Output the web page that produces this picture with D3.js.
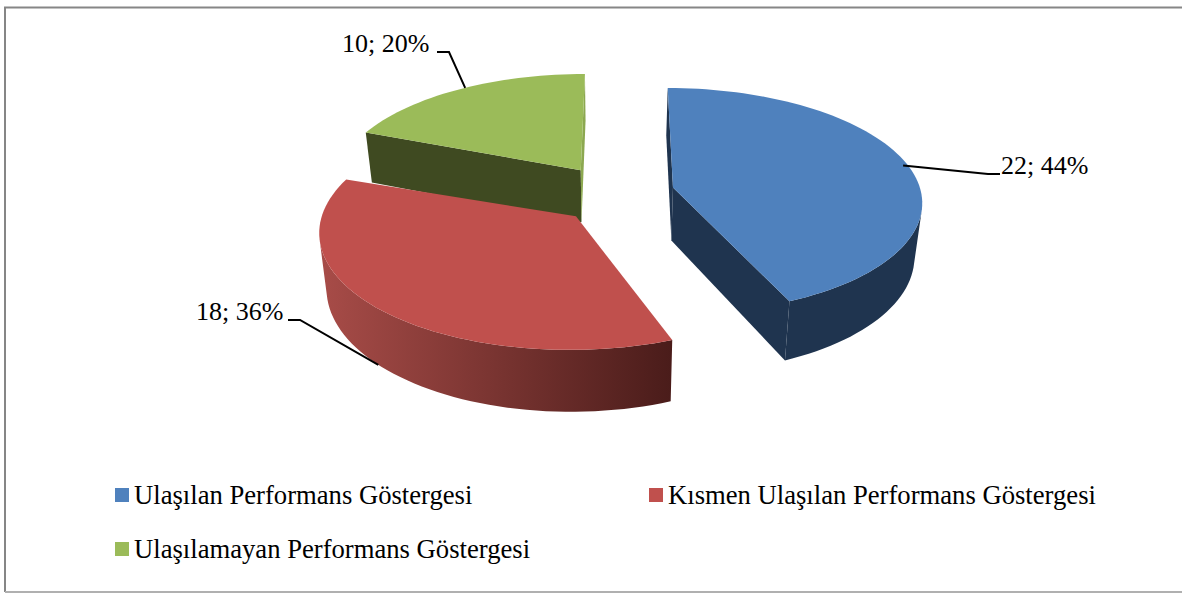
<!DOCTYPE html>
<html>
<head>
<meta charset="utf-8">
<script src="https://d3js.org/d3.v7.min.js"></script>
<style>
  html, body { margin: 0; padding: 0; background: #fff; }
  svg { display: block; }
  text { font-family: "Liberation Serif", serif; fill: #000; }
</style>
</head>
<body>
<script>
const categories = ['Ulaşılan Performans Göstergesi', 'Kısmen Ulaşılan Performans Göstergesi', 'Ulaşılamayan Performans Göstergesi']
const values = [22, 18, 10]

const topColors = ['#4f81bd', '#c0504d', '#9bbb59']
const wallNear = ['#1f344f', '#4a1c1a', '#3f4a21']
const wallFar = ['#1f344f', '#a84c48', '#3f4a21']
const startWall = ['#1f344f', '#4a1c1a', '#3f4a21']
const endWall = ['#1f344f', '#4a1c1a', '#8ca850']

// label placement: where the leader leaves the slice, its elbow and end, the text anchor
const leaderLayer = [0, 1, 0]
const leaderRadius = [0.98, 1, 1]
const leaderTurn = [-0.02, 0.05, 0.06]
const leaderElbow = [[988, 174], [300, 320], [449, 52]]
const leaderEnd = [[1000, 174], [288, 320], [437, 52]]
const labelPos = [[1001, 174], [196, 320], [342, 52]]

const legendPos = [[115, 495], [649, 495], [115, 549]]

const width = 1182
const height = 593

// perspective set up: vanishing point above the chart, depth = 1 on the pie plane
const vx = 622
const vy = -778
const planeH = 966
const thickness = 53
const bottomShrink = 0.975
const bottomCenter = 610
const radiusX = 247
const radiusD = 0.115
const centerX = -5
const centerD = 0.9937
const explodeX = [57, 58, 63]
const explodeD = [0.036, 0.0305, 0.031]
const deg = Math.PI / 180
const startInset = [0, 0.7 * deg, 3.5 * deg]
const endInset = [2 * deg, -1 * deg, 0]

function project (X, d, layer) {
  const x = vx + X / d
  if (!layer) return [x, vy + planeH / d]
  return [bottomCenter + (x - bottomCenter) * bottomShrink, vy + (planeH + thickness) / d]
}

function slicePoint (s, a, r, layer) {
  const mid = (s.startAngle + s.endAngle) / 2
  const X = centerX + explodeX[s.index] * Math.sin(mid) + r * radiusX * Math.sin(a)
  const d = centerD + explodeD[s.index] * Math.cos(mid) + r * radiusD * Math.cos(a)
  return project(X, d, layer)
}

const svg = d3.select('body').append('svg').attr('width', width).attr('height', height)

// chart frame
svg.append('path').attr('d', 'M1182,7.5H5V592').attr('fill', 'none').attr('stroke', '#868686').attr('stroke-width', 2)
svg.append('line').attr('x1', 5).attr('x2', 1182).attr('y1', 592).attr('y2', 592).attr('stroke', '#b0b0b0').attr('stroke-width', 2)

const defs = svg.append('defs')
const pie = d3.pie().sort(null)
const slices = pie(values)
const line = d3.line().curve(d3.curveLinearClosed)

function arcAngles (s) {
  const a0 = s.startAngle + startInset[s.index]
  const a1 = s.endAngle - endInset[s.index]
  const n = Math.ceil((a1 - a0) / (Math.PI / 90))
  return d3.range(n + 1).map(function (i) { return a0 + (a1 - a0) * i / n })
}

// draw back to front, faces turned away from the viewer are skipped
const order = [2, 1, 0]
order.forEach(function (i) {
  const s = slices[i]
  const g = svg.append('g').attr('class', 'slice')
  const angles = arcAngles(s)
  const rim = angles.map(function (a) { return slicePoint(s, a, 1, 0) })
  const apex = slicePoint(s, 0, 0, 0)
  const apexLow = slicePoint(s, 0, 0, 1)
  const topPoly = [apex].concat(rim)
  const topSign = Math.sign(d3.polygonArea(topPoly))
  const a0 = angles[0]
  const a1 = angles[angles.length - 1]

  function wall (quad, color) {
    if (Math.sign(d3.polygonArea(quad)) === topSign) return
    g.append('path').attr('d', line(quad)).attr('fill', color)
  }

  wall([apex, slicePoint(s, a0, 1, 0), slicePoint(s, a0, 1, 1), apexLow], startWall[i])
  wall([slicePoint(s, a1, 1, 0), apex, apexLow, slicePoint(s, a1, 1, 1)], endWall[i])

  // outer wall is the one run of rim segments that faces the viewer
  const visible = d3.pairs(angles).filter(function (pair) {
    const quad = [
      slicePoint(s, pair[0], 1, 0), slicePoint(s, pair[1], 1, 0),
      slicePoint(s, pair[1], 1, 1), slicePoint(s, pair[0], 1, 1)
    ]
    return Math.sign(d3.polygonArea(quad)) !== topSign
  })
  if (visible.length) {
    const run = [visible[0][0]].concat(visible.map(function (pair) { return pair[1] }))
    const upper = run.map(function (a) { return slicePoint(s, a, 1, 0) })
    const lower = run.map(function (a) { return slicePoint(s, a, 1, 1) }).reverse()
    const xs = d3.extent(upper, function (p) { return p[0] })
    const grad = defs.append('linearGradient').attr('id', 'wall' + i)
      .attr('gradientUnits', 'userSpaceOnUse')
      .attr('x1', xs[0]).attr('x2', xs[1]).attr('y1', 0).attr('y2', 0)
    grad.append('stop').attr('offset', 0).attr('stop-color', wallFar[i])
    grad.append('stop').attr('offset', 1).attr('stop-color', wallNear[i])
    g.append('path').attr('d', line(upper.concat(lower))).attr('fill', 'url(#wall' + i + ')')
  }

  g.append('path').attr('d', line(topPoly)).attr('fill', topColors[i])
})

// leaders and data labels
const total = d3.sum(values)
slices.forEach(function (s, i) {
  const mid = (s.startAngle + s.endAngle) / 2
  const start = slicePoint(s, mid + leaderTurn[i], leaderRadius[i], leaderLayer[i])
  svg.append('path')
    .attr('d', d3.line()([start, leaderElbow[i], leaderEnd[i]]))
    .attr('fill', 'none').attr('stroke', '#000').attr('stroke-width', 2)
  svg.append('text')
    .attr('x', labelPos[i][0]).attr('y', labelPos[i][1])
    .attr('font-size', 26)
    .text(values[i] + '; ' + Math.round(values[i] / total * 100) + '%')
})

// legend
categories.forEach(function (c, i) {
  svg.append('rect')
    .attr('x', legendPos[i][0]).attr('y', legendPos[i][1] - 7)
    .attr('width', 14).attr('height', 14)
    .attr('fill', topColors[i])
  svg.append('text')
    .attr('x', legendPos[i][0] + 19).attr('y', legendPos[i][1] + 9)
    .attr('font-size', 26.65)
    .text(c)
})
</script>
</body>
</html>
